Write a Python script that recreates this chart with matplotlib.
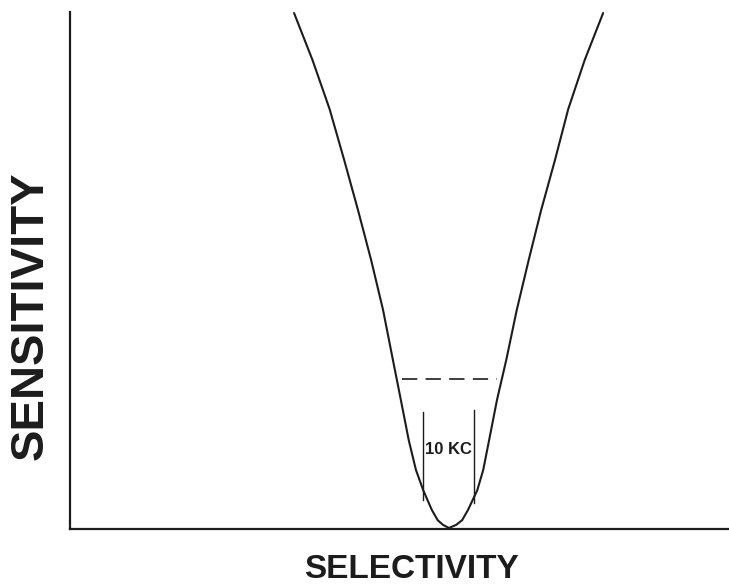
import matplotlib
matplotlib.use("Agg")
import matplotlib.pyplot as plt

# ── 曲线数据（从图中读出，单位任意：横轴 0-10，纵轴 0-10）──
# 左支：从顶部到谷底
left_x = [3.40, 3.68, 3.94, 4.16, 4.37, 4.57, 4.75, 4.90, 5.02, 5.14, 5.25, 5.36, 5.49, 5.58, 5.66, 5.75]
left_y = [9.98, 9.07, 8.12, 7.14, 6.17, 5.20, 4.24, 3.27, 2.50, 1.72, 1.14, 0.75, 0.37, 0.17, 0.08, 0.02]
# 右支：从谷底到顶部
right_x = [5.86, 5.95, 6.04, 6.18, 6.27, 6.36, 6.48, 6.62, 6.78, 6.96, 7.15, 7.36, 7.56, 7.81, 8.09]
right_y = [0.08, 0.17, 0.37, 0.75, 1.14, 1.72, 2.50, 3.27, 4.24, 5.20, 6.17, 7.14, 8.12, 9.07, 9.98]

# 虚线（半功率线）
dash_x = [5.04, 6.48]
dash_y = 2.90

# 10 KC 带宽标记竖线
band_x = [5.36, 6.13]
band_y0 = [0.56, 0.50]
band_y1 = [2.26, 2.30]
band_label = "10 KC"

x_label = "SELECTIVITY"
y_label = "SENSITIVITY"

INK = "#1c1c1c"
LABEL_FONT = ["Liberation Sans", "DejaVu Sans"]

plt.rcParams["lines.scale_dashes"] = False

fig = plt.figure(figsize=(7.29, 5.88), dpi=100)
fig.patch.set_facecolor("white")
ax = fig.add_axes([70 / 729, 59 / 588, 659 / 729, 517 / 588])

# 曲线
ax.plot(left_x + right_x, left_y + right_y, color=INK, linewidth=1.5,
        solid_capstyle="round", solid_joinstyle="round")

# 虚线
ax.plot(dash_x, [dash_y, dash_y], color=INK, linewidth=1.2,
        linestyle=(0, (11, 6)))

# 带宽竖线
for bx, by0, by1 in zip(band_x, band_y0, band_y1):
    ax.plot([bx, bx], [by0, by1], color=INK, linewidth=1.0)
ax.text(sum(band_x) / 2, 1.53, band_label, ha="center", va="center",
        fontsize=12, fontweight="bold", color=INK, family=LABEL_FONT)

ax.set_xlim(0, 10)
ax.set_ylim(0, 10)
ax.set_xticks([])
ax.set_yticks([])
for side in ("top", "right"):
    ax.spines[side].set_visible(False)
for side in ("left", "bottom"):
    ax.spines[side].set_linewidth(1.6)
    ax.spines[side].set_color(INK)

# 轴标签
fig.text(411 / 729, 1 - 569 / 588, x_label, ha="center", va="center",
         fontsize=24, fontweight="bold", color=INK, family=LABEL_FONT)
fig.text(31 / 729, 1 - 316 / 588, y_label, ha="center", va="center",
         rotation=90, fontsize=34, fontweight="bold", color=INK, family=LABEL_FONT)

fig.savefig("out.png", dpi=100, facecolor="white")
